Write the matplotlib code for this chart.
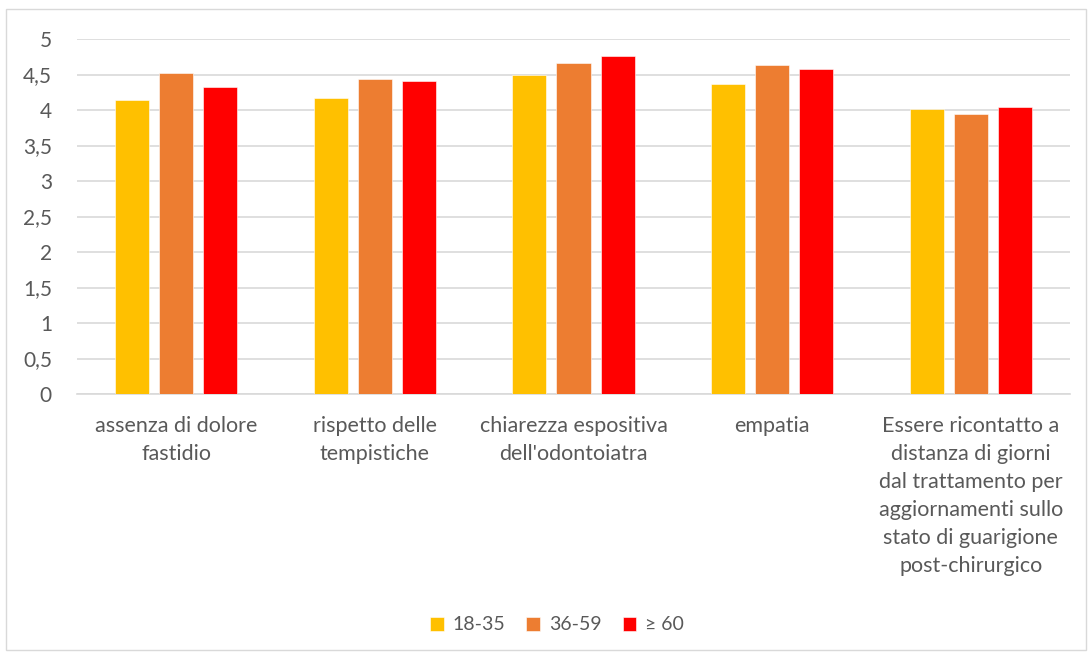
import matplotlib.pyplot as plt
import numpy as np
from matplotlib.patches import Rectangle

categories = [
    "assenza di dolore\nfastidio",
    "rispetto delle\ntempistiche",
    "chiarezza espositiva\ndell'odontoiatra",
    "empatia",
    "Essere ricontatto a\ndistanza di giorni\ndal trattamento per\naggiornamenti sullo\nstato di guarigione\npost-chirurgico",
]
series_names = ["18-35", "36-59", "\u2265 60"]
s_18_35 = [4.14, 4.17, 4.50, 4.37, 4.02]
s_36_59 = [4.52, 4.43, 4.66, 4.64, 3.95]
s_60 = [4.32, 4.41, 4.76, 4.58, 4.04]
colors = ["#FFC000", "#ED7D31", "#FF0000"]
yticks = [0, 0.5, 1, 1.5, 2, 2.5, 3, 3.5, 4, 4.5, 5]
ytick_labels = ["0", "0,5", "1", "1,5", "2", "2,5", "3", "3,5", "4", "4,5", "5"]

plt.rcParams['font.family'] = ['Lato', 'DejaVu Sans']
text_color = "#595959"

fig = plt.figure(figsize=(10.92, 6.59), dpi=100)
fig.patches.append(Rectangle((6/1092, 9/659), 1080/1092, 641/659, transform=fig.transFigure,
                             fill=False, edgecolor="#D9D9D9", linewidth=1))
ax = fig.add_axes([77/1092, 265/659, 993/1092, 355/659])

x = np.arange(len(categories))
w = 0.172
off = 0.222
for i, (vals, c, name) in enumerate(zip([s_18_35, s_36_59, s_60], colors, series_names)):
    ax.bar(x + (i - 1) * off, vals, width=w, color=c, label=name, zorder=3,
           edgecolor="white", linewidth=0.4)

ax.set_xlim(-0.5, len(categories) - 0.5)
ax.set_ylim(0, 5)
ax.set_yticks(yticks)
ax.set_yticklabels(ytick_labels)
ax.yaxis.grid(True, color="#D9D9D9", linewidth=1.2, zorder=0)
ax.set_axisbelow(True)
for s in ["top", "right", "left"]:
    ax.spines[s].set_visible(False)
ax.spines["bottom"].set_color("#D9D9D9")
ax.spines["bottom"].set_linewidth(1.2)
ax.tick_params(axis="y", length=0, pad=18, labelsize=15, labelcolor=text_color)
ax.tick_params(axis="x", length=0, pad=16, labelsize=15.5, labelcolor=text_color)
ax.set_xticks(x)
ax.set_xticklabels(categories, linespacing=1.5, va="top")

leg = fig.legend(loc="center", bbox_to_anchor=(557/1092, 1 - 625/659), ncol=3, frameon=False,
                 fontsize=14, handlelength=0.7, handleheight=0.7, handletextpad=0.45,
                 columnspacing=1.1)
for t in leg.get_texts():
    t.set_color(text_color)

fig.savefig("out.png", dpi=100)
